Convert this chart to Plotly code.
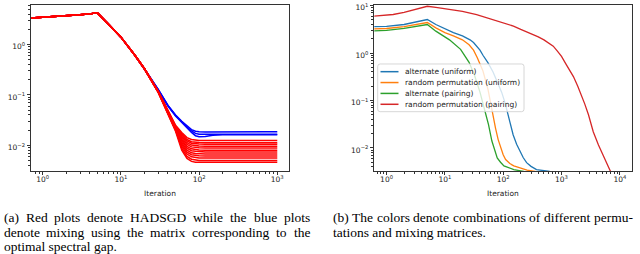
import plotly.graph_objects as go

# ---------------- data: left panel ----------------
LEFT_X = [0.7, 1, 2, 3, 4, 5, 7, 10, 15, 20,
          30, 40, 50, 60, 70, 80, 90, 100, 120, 150, 200, 300, 500, 700, 1000]
# common part of all curves (x = 0.7 ... 20)
LEFT_PREFIX = [3.35, 3.45, 3.7, 3.9, 4.05, 4.24, 2.5, 1.4, 0.62, 0.33]
# tails (x = 30 ... 1000)
BLUE_TAILS = [
    [0.128, 0.062, 0.040, 0.030, 0.024, 0.0205, 0.0190, 0.0185, 0.0184, 0.0185, 0.0186, 0.0186, 0.0185, 0.0186, 0.0186],
    [0.127, 0.061, 0.039, 0.029, 0.023, 0.0192, 0.0172, 0.0165, 0.0163, 0.0165, 0.0166, 0.0166, 0.0166, 0.0166, 0.0166],
    [0.126, 0.060, 0.038, 0.028, 0.022, 0.0180, 0.0155, 0.0148, 0.0150, 0.0158, 0.0161, 0.0161, 0.0161, 0.0161, 0.0161],
]
RED_TAILS = [
    [0.118, 0.048, 0.025, 0.0180, 0.0142, 0.0130, 0.0126, 0.0125, 0.0124, 0.0124, 0.0125, 0.0124, 0.0124, 0.0125, 0.0124],
    [0.117, 0.047, 0.024, 0.0168, 0.0130, 0.0118, 0.0114, 0.0113, 0.0112, 0.0112, 0.0112, 0.0113, 0.0112, 0.0112, 0.0112],
    [0.117, 0.047, 0.024, 0.0160, 0.0122, 0.0110, 0.0107, 0.0106, 0.0105, 0.0105, 0.0105, 0.0105, 0.0106, 0.0105, 0.0105],
    [0.116, 0.046, 0.023, 0.0150, 0.0113, 0.0101, 0.0098, 0.0097, 0.0096, 0.0096, 0.0096, 0.0096, 0.0096, 0.0097, 0.0096],
    [0.116, 0.046, 0.023, 0.0140, 0.0104, 0.0093, 0.0090, 0.0089, 0.0088, 0.0088, 0.0088, 0.0089, 0.0088, 0.0088, 0.0088],
    [0.115, 0.045, 0.022, 0.0130, 0.0095, 0.0085, 0.0082, 0.0081, 0.0080, 0.0080, 0.0080, 0.0080, 0.0081, 0.0080, 0.0080],
    [0.115, 0.045, 0.022, 0.0122, 0.0088, 0.0078, 0.0076, 0.0075, 0.0074, 0.0074, 0.0074, 0.0074, 0.0074, 0.0075, 0.0074],
    [0.114, 0.044, 0.021, 0.0112, 0.0080, 0.0071, 0.0069, 0.0068, 0.0067, 0.0067, 0.0067, 0.0068, 0.0067, 0.0067, 0.0067],
    [0.114, 0.044, 0.021, 0.0104, 0.0073, 0.0065, 0.0063, 0.0062, 0.0061, 0.0061, 0.0061, 0.0061, 0.0062, 0.0061, 0.0061],
    [0.113, 0.043, 0.020, 0.0096, 0.0067, 0.0059, 0.0057, 0.0056, 0.0056, 0.0056, 0.0056, 0.0056, 0.0056, 0.0057, 0.0056],
    [0.113, 0.043, 0.020, 0.0088, 0.0060, 0.0053, 0.0051, 0.0050, 0.0050, 0.0050, 0.0050, 0.0051, 0.0050, 0.0050, 0.0050],
    [0.112, 0.042, 0.019, 0.0080, 0.0055, 0.0048, 0.0046, 0.0046, 0.0046, 0.0046, 0.0046, 0.0046, 0.0046, 0.0046, 0.0046],
]

# ---------------- data: right panel ----------------
ALT_UNI_X = [0.6, 1, 2, 3, 4, 5, 7, 10, 14, 20, 27, 31, 40, 45, 55, 67, 80, 94, 108, 122, 135, 148, 170, 194, 220, 252, 300, 373, 500, 630, 1000]
ALT_UNI_Y = [3.6, 3.65, 4.0, 4.45, 4.8, 5.1, 4.0, 3.2, 2.7, 2.3, 1.9, 1.67, 1.15, 0.9, 0.62, 0.40, 0.25, 0.15, 0.088, 0.05, 0.03, 0.019, 0.012, 0.0085, 0.0063, 0.0049, 0.0041, 0.0035, 0.0033, 0.0032, 0.0030]
PERM_UNI_X = [0.6, 1, 2, 3, 4, 5, 7, 10, 14, 20, 26, 31, 36, 45, 55, 61, 68, 74, 82, 90, 100, 110, 130, 152, 200, 257, 350, 500]
PERM_UNI_Y = [3.25, 3.3, 3.6, 3.9, 4.15, 4.4, 3.4, 2.7, 2.3, 1.9, 1.5, 1.15, 0.8, 0.42, 0.17, 0.085, 0.045, 0.026, 0.015, 0.010, 0.0072, 0.0057, 0.0047, 0.0042, 0.0037, 0.0034, 0.0032, 0.0030]
ALT_PAIR_X = [0.6, 1, 2, 3, 4, 5, 7, 9.3, 12, 18.6, 26, 32, 40, 49, 56, 64, 72, 79, 90, 103, 152, 220, 300]
ALT_PAIR_Y = [2.95, 3.0, 3.3, 3.55, 3.8, 4.0, 2.9, 2.3, 1.9, 1.2, 0.64, 0.35, 0.15, 0.058, 0.031, 0.014, 0.0085, 0.0062, 0.0050, 0.0042, 0.0035, 0.0032, 0.0030]
PERM_PAIR_X = [0.6, 1, 1.3, 2, 2.86, 4, 5, 7, 11.4, 20, 35, 60, 96, 150, 200, 300, 400, 500, 600, 722, 850, 1000, 1200, 1400,
               1600, 1900, 2200, 2500, 2900, 3500, 4300, 5200, 6300, 7000, 8000, 10000]
PERM_PAIR_Y = [6.0, 6.2, 6.5, 7.2, 8.0, 9.0, 9.7, 9.2, 8.5, 7.6, 6.5, 5.3, 4.4, 3.7, 3.15, 2.6, 2.2, 1.9, 1.65, 1.4, 1.1, 0.85, 0.58, 0.42,
               0.32, 0.2, 0.13, 0.085, 0.05, 0.022, 0.0115, 0.0067, 0.0038, 0.0031, 0.0025, 0.0018]

SERIES_NAMES = ["alternate (uniform)", "random permutation (uniform)",
                "alternate (pairing)", "random permutation (pairing)"]
SERIES_COLORS = ["#1f77b4", "#ff7f0e", "#2ca02c", "#d62728"]

LEFT_XTICKS = [1, 10, 100, 1000]
LEFT_XTICKTEXT = ["10<sup>0</sup>", "10<sup>1</sup>", "10<sup>2</sup>", "10<sup>3</sup>"]
LEFT_YTICKS = [0.01, 0.1, 1]
LEFT_YTICKTEXT = ["10<sup>−2</sup>", "10<sup>−1</sup>", "10<sup>0</sup>"]
RIGHT_XTICKS = [1, 10, 100, 1000, 10000]
RIGHT_XTICKTEXT = ["10<sup>0</sup>", "10<sup>1</sup>", "10<sup>2</sup>", "10<sup>3</sup>", "10<sup>4</sup>"]
RIGHT_YTICKS = [0.01, 0.1, 1, 10]
RIGHT_YTICKTEXT = ["10<sup>−2</sup>", "10<sup>−1</sup>", "10<sup>0</sup>", "10<sup>1</sup>"]

CAPTION_A = ["(a) Red plots denote HADSGD while the blue plots",
             "denote mixing using the matrix corresponding to the",
             "optimal spectral gap."]
CAPTION_B = ["(b) The colors denote combinations of different permu-",
             "tations and mixing matrices."]

# ---------------- figure ----------------
W, H = 640, 254
fig = go.Figure()

for tail in BLUE_TAILS:
    fig.add_trace(go.Scatter(x=LEFT_X, y=LEFT_PREFIX + tail, mode="lines",
                             line=dict(color="#0000ff", width=1.5),
                             showlegend=False, xaxis="x", yaxis="y"))
for tail in RED_TAILS:
    fig.add_trace(go.Scatter(x=LEFT_X, y=LEFT_PREFIX + tail, mode="lines",
                             line=dict(color="#ff0000", width=1.5),
                             showlegend=False, xaxis="x", yaxis="y"))

right_data = [(ALT_UNI_X, ALT_UNI_Y), (PERM_UNI_X, PERM_UNI_Y),
              (ALT_PAIR_X, ALT_PAIR_Y), (PERM_PAIR_X, PERM_PAIR_Y)]
for (xs, ys), name, col in zip(right_data, SERIES_NAMES, SERIES_COLORS):
    fig.add_trace(go.Scatter(x=xs, y=ys, mode="lines", name=name,
                             line=dict(color=col, width=1.3),
                             showlegend=False, xaxis="x2", yaxis="y2"))


def minor_vals(lo, hi):
    vals = []
    for k in range(lo, hi + 1):
        for m in range(2, 10):
            vals.append(m * 10.0 ** k)
    return vals


TICKFONT = dict(family="DejaVu Sans", size=7.5, color="#222")
MINOR = dict(tickmode="array", ticks="outside", ticklen=2, tickwidth=0.6, tickcolor="#333")
axis_common = dict(type="log", showgrid=False, zeroline=False, showline=True,
                   mirror=True, linecolor="#333", linewidth=0.8,
                   ticks="outside", ticklen=3.5, tickwidth=0.8, tickcolor="#333",
                   tickfont=TICKFONT, tickmode="array", ticklabeloverflow="allow")


def px_x(p):
    return p / W


def px_y(p):
    return 1 - p / H


fig.update_layout(
    width=W, height=H, margin=dict(l=0, r=0, t=0, b=0),
    paper_bgcolor="white", plot_bgcolor="white", showlegend=False,
    xaxis=dict(axis_common, domain=[px_x(31), px_x(289)], range=[-0.15, 3.15],
               tickvals=LEFT_XTICKS, ticktext=LEFT_XTICKTEXT,
               minor=dict(MINOR, tickvals=minor_vals(-1, 2)),
               ticklabelstandoff=-2,
               title=dict(text="Iteration", font=TICKFONT, standoff=7),
               anchor="y"),
    yaxis=dict(axis_common, domain=[px_y(170), px_y(2)], range=[-2.51, 0.784],
               tickvals=LEFT_YTICKS, ticktext=LEFT_YTICKTEXT,
               minor=dict(MINOR, tickvals=minor_vals(-3, 0)),
               ticklabelshift=2,
               anchor="x"),
    xaxis2=dict(axis_common, domain=[px_x(374.3), px_x(631.5)], range=[-0.21, 4.2],
                tickvals=RIGHT_XTICKS, ticktext=RIGHT_XTICKTEXT,
                minor=dict(MINOR, tickvals=minor_vals(-1, 4)),
                ticklabelstandoff=-2,
                title=dict(text="Iteration", font=TICKFONT, standoff=7),
                anchor="y2"),
    yaxis2=dict(axis_common, domain=[px_y(170), px_y(1.7)], range=[-2.485, 1.02],
                tickvals=RIGHT_YTICKS, ticktext=RIGHT_YTICKTEXT,
                minor=dict(MINOR, tickvals=minor_vals(-3, 1)),
                ticklabelshift=2,
                anchor="x2"),
)


def rounded_rect(x0, y0, x1, y1, r):
    X = px_x
    Y = px_y
    pts = [f"M {X(x0 + r)},{Y(y0)}",
           f"L {X(x1 - r)},{Y(y0)}",
           f"Q {X(x1)},{Y(y0)} {X(x1)},{Y(y0 + r)}",
           f"L {X(x1)},{Y(y1 - r)}",
           f"Q {X(x1)},{Y(y1)} {X(x1 - r)},{Y(y1)}",
           f"L {X(x0 + r)},{Y(y1)}",
           f"Q {X(x0)},{Y(y1)} {X(x0)},{Y(y1 - r)}",
           f"L {X(x0)},{Y(y0 + r)}",
           f"Q {X(x0)},{Y(y0)} {X(x0 + r)},{Y(y0)}",
           "Z"]
    return " ".join(pts)


# manual legend (matplotlib style) for the right panel
shapes = [dict(type="path", xref="paper", yref="paper",
               path=rounded_rect(377.7, 61.7, 524, 110, 2.5),
               fillcolor="rgba(255,255,255,0.8)", line=dict(color="#cccccc", width=0.8),
               layer="above")]
annotations = []
for i, (name, col) in enumerate(zip(SERIES_NAMES, SERIES_COLORS)):
    yc = 69.5 + 11 * i
    shapes.append(dict(type="line", xref="paper", yref="paper",
                       x0=px_x(380.5), x1=px_x(398.5), y0=px_y(yc), y1=px_y(yc),
                       line=dict(color=col, width=1.5), layer="above"))
    annotations.append(dict(text=name, xref="paper", yref="paper",
                            x=px_x(403.3), y=px_y(yc), xanchor="left", yanchor="middle",
                            showarrow=False, font=TICKFONT))

# ---- captions (Times metrics, justified lines) ----
CAP_SIZE = 13.5
CAPFONT = dict(family="Liberation Serif", size=CAP_SIZE, color="black")
TIMES_W = {' ': 250, '(': 333, ')': 333, '.': 250, '-': 333,
           'a': 444, 'b': 500, 'c': 444, 'd': 500, 'e': 444, 'f': 333, 'g': 500,
           'h': 500, 'i': 278, 'l': 278, 'm': 778, 'n': 500, 'o': 500, 'p': 500,
           'r': 333, 's': 389, 't': 278, 'u': 500, 'w': 722, 'x': 500,
           'A': 722, 'D': 722, 'G': 722, 'H': 722, 'R': 667, 'S': 556, 'T': 611}


def word_w(w):
    return sum(TIMES_W.get(c, 500) for c in w) / 1000.0 * CAP_SIZE


def add_line(text, x0, yc, x1=None):
    if x1 is None:
        annotations.append(dict(text=text, xref="paper", yref="paper",
                                x=px_x(x0), y=px_y(yc), xanchor="left", yanchor="middle",
                                showarrow=False, font=CAPFONT))
        return
    words = text.split(" ")
    total = sum(word_w(w) for w in words)
    gap = (x1 - x0 - total) / (len(words) - 1)
    x = x0
    for w in words:
        annotations.append(dict(text=w, xref="paper", yref="paper",
                                x=px_x(x), y=px_y(yc), xanchor="left", yanchor="middle",
                                showarrow=False, font=CAPFONT))
        x += word_w(w) + gap


CAP_Y = [217.5, 232.0, 246.5]
add_line(CAPTION_A[0], 1.7, CAP_Y[0], 308.0)
add_line(CAPTION_A[1], 1.7, CAP_Y[1], 308.0)
add_line(CAPTION_A[2], 1.7, CAP_Y[2])
add_line(CAPTION_B[0], 331.0, CAP_Y[0], 631.0)
add_line(CAPTION_B[1], 331.0, CAP_Y[1])

fig.update_layout(shapes=shapes, annotations=annotations)
fig.write_html("out.html", config={"displayModeBar": False},
               post_script="document.body.style.margin='0';document.body.style.overflow='hidden';")
